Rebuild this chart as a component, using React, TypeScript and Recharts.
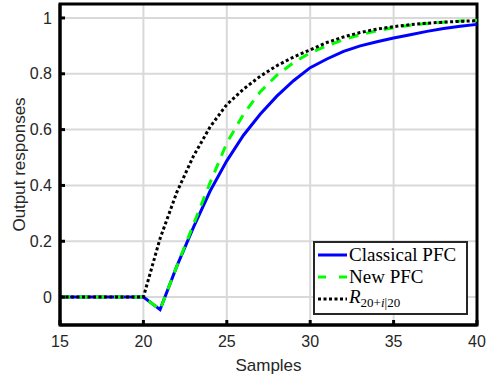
import React from 'react';
import { LineChart, Line, XAxis, YAxis, CartesianGrid, ReferenceArea } from 'recharts';

const samples = [15, 16, 17, 18, 19, 20, 21, 22, 23, 24, 25, 26, 27, 28, 29, 30, 31, 32, 33, 34, 35, 36, 37, 38, 39, 40];
const classicalPFC = [0, 0, 0, 0, 0, 0, -0.045, 0.11, 0.25, 0.38, 0.488, 0.58, 0.655, 0.72, 0.775, 0.822, 0.853, 0.88, 0.9, 0.915, 0.928, 0.94, 0.952, 0.962, 0.97, 0.977];
const newPFC = [0, 0, 0, 0, 0, 0, -0.045, 0.11, 0.26, 0.41, 0.552, 0.655, 0.735, 0.795, 0.84, 0.875, 0.9, 0.922, 0.94, 0.954, 0.965, 0.974, 0.98, 0.985, 0.989, 0.992];
const reference = [0, 0, 0, 0, 0, 0, 0.21, 0.375, 0.505, 0.61, 0.69, 0.745, 0.791, 0.829, 0.86, 0.886, 0.912, 0.932, 0.948, 0.96, 0.969, 0.976, 0.981, 0.985, 0.988, 0.99];

const xTicks = [15, 20, 25, 30, 35, 40];
const yTicks = [0, 0.2, 0.4, 0.6, 0.8, 1];
const xDomain = [15, 40];
const yDomain = [-0.1, 1.05];
const xLabel = 'Samples';
const yLabel = 'Output responses';
const seriesNames = ['Classical PFC', 'New PFC'];

const data = samples.map((s, i) => ({
  s,
  classical: classicalPFC[i],
  newpfc: newPFC[i],
  ref: reference[i],
}));

const AX = '#000';
const TXT = '#262626';
const FONT = '"Liberation Sans", Arial, Helvetica, sans-serif';
const TICK_FS = 16;
const TICK_LEN = 5;

const BottomTick = (p: any) => (
  <g>
    <line x1={p.x} x2={p.x} y1={p.y} y2={p.y - TICK_LEN} stroke={AX} strokeWidth={3} />
    <text x={p.x} y={p.y + 22} textAnchor="middle" fontSize={TICK_FS} fontFamily={FONT} fill={TXT} stroke="none">
      {p.payload.value}
    </text>
  </g>
);
const TopTick = (p: any) => (
  <line x1={p.x} x2={p.x} y1={p.y} y2={p.y + TICK_LEN} stroke={AX} strokeWidth={3} />
);
const LeftTick = (p: any) => (
  <g>
    <line x1={p.x} x2={p.x + TICK_LEN} y1={p.y} y2={p.y} stroke={AX} strokeWidth={3} />
    <text x={p.x - 8} y={p.y + 5.7} textAnchor="end" fontSize={TICK_FS} fontFamily={FONT} fill={TXT} stroke="none">
      {p.payload.value}
    </text>
  </g>
);
const RightTick = (p: any) => (
  <line x1={p.x} x2={p.x - TICK_LEN} y1={p.y} y2={p.y} stroke={AX} strokeWidth={3} />
);

const SERIF = '"Liberation Serif", "Times New Roman", Times, serif';

const LegendBox = () => (
  <div
    style={{
      position: 'absolute',
      left: 313,
      top: 241,
      width: 151,
      height: 70,
      border: '2.5px solid #262626',
      background: '#fff',
      boxSizing: 'content-box',
    }}
  >
    <svg width={151} height={70} style={{ position: 'absolute', left: 0, top: 0 }}>
      <line x1={3} x2={32} y1={12} y2={12} stroke="#0000ff" strokeWidth={3} />
      <line x1={3} x2={32} y1={34} y2={34} stroke="#00ff00" strokeWidth={3} strokeDasharray="8 13" />
      <line x1={3} x2={32} y1={56} y2={56} stroke="#000" strokeWidth={3} strokeDasharray="3 2.5" />
      <text x={34} y={18} fontFamily={SERIF} fontSize={19} fill="#000">{seriesNames[0]}</text>
      <text x={34} y={40} fontFamily={SERIF} fontSize={19} fill="#000">{seriesNames[1]}</text>
      <text x={34} y={60} fontFamily={SERIF} fontSize={19} fill="#000">
        <tspan fontStyle="italic">R</tspan>
        <tspan fontSize={13} dy={4}>20+</tspan>
        <tspan fontSize={13} fontStyle="italic">i</tspan>
        <tspan fontSize={13}>|20</tspan>
      </text>
    </svg>
  </div>
);

export default function App() {
  return (
    <div style={{ position: 'absolute', left: 0, top: 0, width: 487, height: 383, background: '#fff' }}>
      <LineChart
        width={487}
        height={383}
        data={data}
        margin={{ top: 4, right: 10, left: 0, bottom: 0 }}
      >
        <CartesianGrid stroke="#d9d9d9" strokeWidth={2} />
        <XAxis
          dataKey="s"
          type="number"
          domain={xDomain}
          ticks={xTicks}
          height={58}
          tickSize={0}
          tickMargin={0}
          tickLine={false}
          stroke={AX}
          strokeWidth={3}
          axisLine={{ stroke: AX, strokeWidth: 3 }}
          tick={<BottomTick />}
          label={{ value: xLabel, position: 'center', dy: 11, fontSize: 17, fontFamily: FONT, fill: TXT, stroke: 'none' }}
        />
        <XAxis
          xAxisId="top"
          orientation="top"
          dataKey="s"
          type="number"
          domain={xDomain}
          ticks={xTicks}
          height={0}
          tickSize={0}
          tickMargin={0}
          tickLine={false}
          stroke={AX}
          strokeWidth={3}
          axisLine={{ stroke: AX, strokeWidth: 3 }}
          tick={<TopTick />}
        />
        <YAxis
          type="number"
          domain={yDomain}
          ticks={yTicks}
          width={60}
          tickSize={0}
          tickMargin={0}
          tickLine={false}
          stroke={AX}
          strokeWidth={3}
          axisLine={{ stroke: AX, strokeWidth: 3 }}
          tick={<LeftTick />}
          label={{ value: yLabel, position: 'center', angle: -90, dx: -11, fontSize: 17, fontFamily: FONT, fill: TXT, stroke: 'none' }}
        />
        <YAxis
          yAxisId="right"
          orientation="right"
          type="number"
          domain={yDomain}
          ticks={yTicks}
          width={0}
          tickSize={0}
          tickMargin={0}
          tickLine={false}
          stroke={AX}
          strokeWidth={3}
          axisLine={{ stroke: AX, strokeWidth: 3 }}
          tick={<RightTick />}
        />
        <Line
          type="linear"
          dataKey="classical"
          stroke="#0000ff"
          strokeWidth={3}
          dot={false}
          isAnimationActive={false}
        />
        <Line
          type="linear"
          dataKey="newpfc"
          stroke="#00ff00"
          strokeWidth={3}
          strokeDasharray="10 8"
          dot={false}
          isAnimationActive={false}
        />
        <Line
          type="linear"
          dataKey="ref"
          stroke="#000"
          strokeWidth={3}
          strokeDasharray="3 2.5"
          dot={false}
          isAnimationActive={false}
        />
        <ReferenceArea
          x1={xDomain[0]}
          x2={xDomain[1]}
          y1={yDomain[0]}
          y2={yDomain[1]}
          fill="none"
          fillOpacity={0}
          stroke={AX}
          strokeWidth={3}
          ifOverflow="visible"
        />
      </LineChart>
      <LegendBox />
    </div>
  );
}
